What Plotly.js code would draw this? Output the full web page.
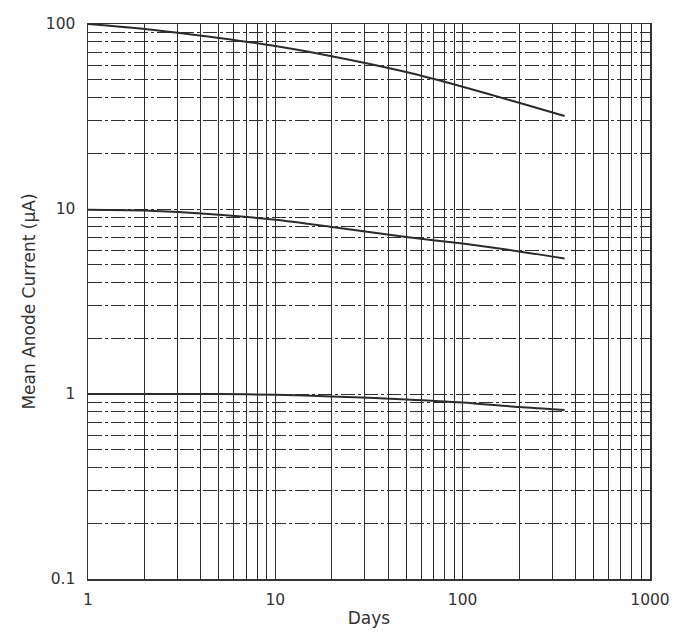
<!DOCTYPE html>
<html>
<head>
<meta charset="utf-8">
<script src="https://cdn.plot.ly/plotly-3.0.1.min.js"></script>
<style>
  html, body { margin: 0; padding: 0; background: #fff; }
  #chart { width: 687px; height: 633px; }
</style>
</head>
<body>
<div id="chart"></div>
<script>
// Data
const days = [1, 2, 5, 10, 20, 50, 100, 200, 350];
const current100 = [100, 94, 84, 76, 67, 55, 45.8, 37.5, 31.8];
const current10 = [9.9, 9.8, 9.3, 8.75, 8.0, 7.05, 6.5, 5.9, 5.4];
const current1 = [1.0, 1.0, 1.0, 0.99, 0.97, 0.935, 0.9, 0.85, 0.82];

const xDecades = [1, 10, 100, 1000];
const xDecadeLabels = ['1', '10', '100', '1000'];
const yDecades = [0.1, 1, 10, 100];
const yDecadeLabels = ['0.1', '1', '10', '100'];

// Grid positions at every 1..9 step of each decade, labels only at decades
function gridTicks(decades, labels) {
  const vals = [], text = [];
  decades.forEach((d, i) => {
    vals.push(d); text.push(labels[i]);
    if (i < decades.length - 1) {
      for (let k = 2; k <= 9; k++) { vals.push(d * k); text.push(''); }
    }
  });
  return { vals, text };
}
const xt = gridTicks(xDecades, xDecadeLabels);
const yt = gridTicks(yDecades, yDecadeLabels);

const lineStyle = { color: '#2b2b2b', width: 2, shape: 'spline', smoothing: 0.8 };
const traces = [current100, current10, current1].map(ys => ({
  x: days, y: ys, type: 'scatter', mode: 'lines', line: lineStyle,
  hoverinfo: 'skip', showlegend: false
}));

const fontFamily = 'DejaVu Sans, Arial, sans-serif';
const layout = {
  width: 687, height: 633,
  margin: { l: 88, r: 37, t: 24, b: 54, pad: 0 },
  paper_bgcolor: '#ffffff', plot_bgcolor: '#ffffff',
  font: { family: fontFamily, size: 15, color: '#333' },
  showlegend: false,
  xaxis: {
    type: 'log', range: [0, 3],
    tickmode: 'array', tickvals: xt.vals, ticktext: xt.text,
    showgrid: true, gridcolor: '#2e2e2e', gridwidth: 1,
    showline: true, linecolor: '#333', linewidth: 1.5, mirror: true,
    ticks: '', ticklabelstandoff: 6, zeroline: false,
    tickfont: { family: fontFamily, size: 15.5, color: '#333' },
    title: { text: 'Days', font: { family: fontFamily, size: 17, color: '#333' }, standoff: 4 },
    automargin: false
  },
  yaxis: {
    type: 'log', range: [-1, 2],
    tickmode: 'array', tickvals: yt.vals, ticktext: yt.text,
    showgrid: true, gridcolor: '#2e2e2e', gridwidth: 1, griddash: '14px,3px,3px,3px',
    showline: true, linecolor: '#333', linewidth: 1.5, mirror: true,
    ticks: '', ticklabelstandoff: 8, zeroline: false,
    tickfont: { family: fontFamily, size: 15.5, color: '#333' },
    title: { text: 'Mean Anode Current (μA)', font: { family: fontFamily, size: 17, color: '#333' }, standoff: 6 },
    automargin: false
  }
};

Plotly.newPlot('chart', traces, layout, { displayModeBar: false, staticPlot: true });
</script>
</body>
</html>
